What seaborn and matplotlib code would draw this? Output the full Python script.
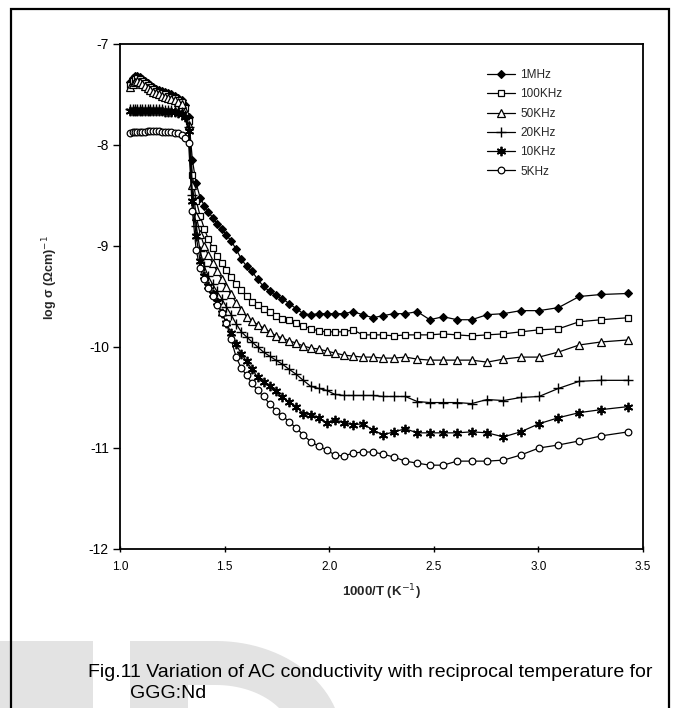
import matplotlib
matplotlib.use("Agg")
import matplotlib.pyplot as plt
import seaborn as sns
import pandas as pd
import numpy as np
from matplotlib.patches import Rectangle, Polygon

# 1000/T values (K^-1)
inv_T = [1.049, 1.060, 1.072, 1.083, 1.095, 1.107, 1.120, 1.133, 1.145, 1.159,
         1.172, 1.186, 1.200, 1.215, 1.230, 1.245, 1.261, 1.277, 1.294, 1.311,
         1.328, 1.346, 1.364, 1.383, 1.403, 1.422, 1.443, 1.464, 1.486, 1.508,
         1.531, 1.555, 1.580, 1.605, 1.631, 1.658, 1.686, 1.715, 1.745, 1.776,
         1.808, 1.842, 1.876, 1.912, 1.949, 1.988, 2.028, 2.070, 2.114, 2.160,
         2.208, 2.257, 2.309, 2.364, 2.421, 2.481, 2.545, 2.611, 2.681, 2.755,
         2.833, 2.915, 3.003, 3.096, 3.195, 3.300, 3.430]

sig_1MHz = [-7.38, -7.34, -7.32, -7.32, -7.33, -7.35, -7.37, -7.39, -7.41, -7.43,
            -7.45, -7.46, -7.47, -7.48, -7.49, -7.50, -7.51, -7.53, -7.55, -7.60,
            -7.72,
            -8.15, -8.38, -8.52, -8.60, -8.66, -8.72, -8.78, -8.83, -8.89, -8.95,
            -9.03, -9.13, -9.20, -9.25, -9.33, -9.40, -9.45, -9.49, -9.52, -9.57,
            -9.62, -9.67, -9.68, -9.67, -9.67, -9.67, -9.67, -9.65, -9.68, -9.71,
            -9.69, -9.67, -9.67, -9.65, -9.73, -9.70, -9.73, -9.73, -9.68, -9.67,
            -9.64, -9.64, -9.61, -9.50, -9.48, -9.47]
sig_100KHz = [-7.41, -7.37, -7.35, -7.34, -7.35, -7.37, -7.39, -7.41, -7.43, -7.45,
              -7.47, -7.48, -7.49, -7.50, -7.51, -7.52, -7.53, -7.55, -7.57, -7.63,
              -7.76,
              -8.30, -8.55, -8.70, -8.83, -8.93, -9.02, -9.10, -9.17, -9.24, -9.31,
              -9.38, -9.44, -9.50, -9.55, -9.58, -9.62, -9.65, -9.69, -9.72, -9.73,
              -9.76, -9.79, -9.82, -9.84, -9.85, -9.85, -9.85, -9.83, -9.88, -9.88,
              -9.88, -9.89, -9.88, -9.88, -9.88, -9.87, -9.88, -9.89, -9.88, -9.87,
              -9.85, -9.83, -9.82, -9.75, -9.73, -9.71]
sig_50KHz = [-7.43, -7.40, -7.38, -7.37, -7.38, -7.40, -7.42, -7.44, -7.46, -7.48,
             -7.49, -7.50, -7.51, -7.52, -7.53, -7.54, -7.55, -7.57, -7.59, -7.66,
             -7.80,
             -8.40, -8.70, -8.88, -9.00, -9.09, -9.17, -9.25, -9.33, -9.41, -9.48,
             -9.56, -9.63, -9.70, -9.74, -9.78, -9.81, -9.85, -9.89, -9.91, -9.94,
             -9.96, -9.99, -10.01, -10.02, -10.04, -10.06, -10.08, -10.09, -10.10, -10.10,
             -10.11, -10.11, -10.10, -10.12, -10.13, -10.13, -10.13, -10.13, -10.15, -10.12,
             -10.10, -10.10, -10.05, -9.98, -9.95, -9.93]
sig_20KHz = [-7.64, -7.64, -7.64, -7.64, -7.64, -7.64, -7.64, -7.64, -7.64, -7.64,
             -7.64, -7.64, -7.64, -7.65, -7.65, -7.65, -7.65, -7.66, -7.67, -7.70,
             -7.82,
             -8.50, -8.80, -9.05, -9.20, -9.30, -9.38, -9.45, -9.52, -9.60, -9.68,
             -9.77, -9.85, -9.90, -9.95, -10.00, -10.05, -10.09, -10.13, -10.17, -10.22,
             -10.27, -10.33, -10.39, -10.41, -10.43, -10.47, -10.48, -10.48, -10.48, -10.48,
             -10.49, -10.49, -10.49, -10.54, -10.55, -10.55, -10.55, -10.56, -10.52, -10.53,
             -10.50, -10.49, -10.41, -10.34, -10.33, -10.33]
sig_10KHz = [-7.66, -7.66, -7.66, -7.66, -7.66, -7.66, -7.66, -7.66, -7.66, -7.66,
             -7.66, -7.66, -7.66, -7.67, -7.67, -7.67, -7.67, -7.68, -7.69, -7.72,
             -7.86,
             -8.55, -8.90, -9.15, -9.30, -9.40, -9.48, -9.55, -9.66, -9.76, -9.86,
             -9.97, -10.07, -10.14, -10.22, -10.30, -10.35, -10.39, -10.44, -10.50, -10.54,
             -10.59, -10.66, -10.67, -10.70, -10.75, -10.72, -10.75, -10.77, -10.76, -10.82,
             -10.87, -10.84, -10.81, -10.85, -10.85, -10.85, -10.85, -10.84, -10.85, -10.89,
             -10.84, -10.76, -10.70, -10.65, -10.62, -10.59]
sig_5KHz = [-7.88, -7.87, -7.87, -7.87, -7.87, -7.87, -7.87, -7.86, -7.86, -7.86,
            -7.86, -7.86, -7.87, -7.87, -7.87, -7.87, -7.88, -7.88, -7.90, -7.93,
            -7.98,
            -8.65, -9.04, -9.22, -9.33, -9.42, -9.50, -9.58, -9.66, -9.76, -9.92,
            -10.10, -10.21, -10.28, -10.36, -10.43, -10.49, -10.56, -10.63, -10.68, -10.74,
            -10.80, -10.87, -10.94, -10.98, -11.02, -11.07, -11.08, -11.05, -11.04, -11.04,
            -11.06, -11.09, -11.13, -11.15, -11.17, -11.17, -11.13, -11.13, -11.13, -11.12,
            -11.07, -11.00, -10.97, -10.93, -10.88, -10.84]

series_names = ["1MHz", "100KHz", "50KHz", "20KHz", "10KHz", "5KHz"]
series_vals = [sig_1MHz, sig_100KHz, sig_50KHz, sig_20KHz, sig_10KHz, sig_5KHz]

x_ticks = [1.0, 1.5, 2.0, 2.5, 3.0, 3.5]
y_ticks = [-12, -11, -10, -9, -8, -7]

styles = {
    "1MHz": dict(marker="D", ms=3.8, mfc="black", mew=0.8),
    "100KHz": dict(marker="s", ms=4.8, mfc="white", mew=0.9),
    "50KHz": dict(marker="^", ms=5.2, mfc="white", mew=0.9),
    "20KHz": dict(marker="+", ms=6.8, mfc="black", mew=1.0),
    "10KHz": dict(marker=(6, 2, 0), ms=6.8, mfc="black", mew=1.3),
    "5KHz": dict(marker="o", ms=4.8, mfc="white", mew=0.9),
}

sns.set_style("white")
plt.rcParams["font.family"] = ["Liberation Sans", "DejaVu Sans"]

W, H = 676, 708
fig = plt.figure(figsize=(W / 100, H / 100), dpi=100)


def fpt(x, y):
    return (x / W, 1 - y / H)


# faint watermark (behind everything)
fig.patches.append(Rectangle(fpt(0, 708), 93 / W, 67 / H, transform=fig.transFigure,
                             facecolor="#e3e3e3", edgecolor="none", zorder=0))
th = np.linspace(np.pi / 2, 0, 30)
outer = [fpt(130, 641), fpt(216, 641)] + [fpt(216 + 126 * np.cos(t), 741 - 100 * np.sin(t)) for t in th] \
        + [fpt(342, 760), fpt(130, 760)]
inner = [fpt(188, 685), fpt(216, 685)] + [fpt(216 + 78 * np.cos(t), 741 - 56 * np.sin(t)) for t in th] \
        + [fpt(294, 760), fpt(188, 760)]
fig.patches.append(Polygon(outer, closed=True, transform=fig.transFigure,
                           facecolor="#e3e3e3", edgecolor="none", zorder=0))
fig.patches.append(Polygon(inner, closed=True, transform=fig.transFigure,
                           facecolor="white", edgecolor="none", zorder=0.5))

ax = fig.add_axes([120 / W, 1 - 549 / H, 523 / W, 505 / H])

handles = []
for name, vals in zip(series_names, series_vals):
    df = pd.DataFrame({"x": inv_T, "y": vals})
    st = styles[name]
    sns.lineplot(data=df, x="x", y="y", ax=ax, color="black", lw=0.9,
                 marker=st["marker"], markersize=st["ms"],
                 markerfacecolor=st["mfc"], markeredgecolor="black",
                 markeredgewidth=st["mew"], estimator=None, sort=False,
                 label=name, legend=False)
    handles.append(ax.lines[-1])

ax.set_xlim(1.0, 3.5)
ax.set_ylim(-12, -7)
ax.set_xticks(x_ticks)
ax.set_xticklabels([f"{v:.1f}" for v in x_ticks], fontsize=8.5)
ax.set_yticks(y_ticks)
ax.set_yticklabels([str(v) for v in y_ticks], fontsize=10)
ax.tick_params(axis="x", direction="inout", length=5, width=1.0, pad=6)
ax.tick_params(axis="y", direction="out", length=5, width=1.0, pad=3)
ax.tick_params(axis="both", colors="black", left=True, bottom=True)
for sp in ax.spines.values():
    sp.set_visible(True)
    sp.set_color("black")
    sp.set_linewidth(1.3)

ax.set_xlabel("1000/T (K$^{-1}$)", fontsize=9.5, fontweight="bold", labelpad=7)
ax.set_ylabel("log σ (Ωcm)$^{-1}$", fontsize=9, fontweight="bold")
ax.yaxis.set_label_coords((60 - 120) / 523, (549 - 278) / 505)

leg = ax.legend(handles=handles, labels=series_names, loc="upper left",
                bbox_to_anchor=((487 - 120) / 523, (549 - 69) / 505), frameon=False,
                fontsize=8.5, handlelength=2.4, handletextpad=0.4, labelspacing=0.62,
                borderaxespad=0, borderpad=0)

# outer frame
fig.patches.append(Rectangle(fpt(11, 730), (669 - 11) / W, (730 - 9) / H,
                             transform=fig.transFigure, fill=False,
                             edgecolor="black", linewidth=1.6, zorder=5))

fig.text(*fpt(88, 677), "Fig.11 Variation of AC conductivity with reciprocal temperature for",
         fontsize=14, ha="left", va="baseline", color="black", zorder=3)
fig.text(*fpt(130, 698), "GGG:Nd", fontsize=14, ha="left", va="baseline",
         color="black", zorder=3)

fig.savefig("out.png", dpi=100, facecolor="white")
